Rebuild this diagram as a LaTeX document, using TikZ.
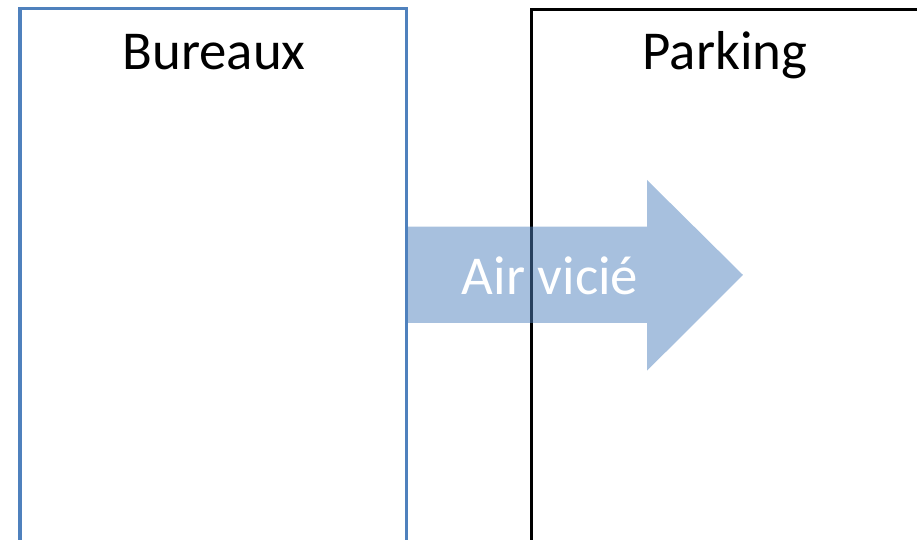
\documentclass[tikz,border=0pt]{standalone}
\usepackage{fontspec}
\setmainfont{Carlito}
\usepackage{tikz}
\usepackage{tkz-euclide}
\usetikzlibrary{arrows}
\definecolor{officeblue}{HTML}{4F81BD}

\begin{document}
\begin{tikzpicture}[]
    \useasboundingbox (0,0) rectangle (9.17,5.40);
    \clip (0,0) rectangle (9.17,5.40);

    \tkzDefPoints{0.20/-0.2/B_1,4.065/-0.2/B_2,4.065/5.315/B_3,0.20/5.315/B_4}
    \draw[color=officeblue,line width=0.9pt] (B_1)--(B_2)--(B_3)--(B_4)--cycle;

    \tkzDefPoints{5.315/-0.2/P_1,9.19/-0.2/P_2,9.19/5.305/P_3,5.315/5.305/P_4}
    \draw[color=black,line width=0.9pt] (P_1)--(P_2)--(P_3)--(P_4)--cycle;

    \tkzDefPoints{4.08/2.17/A_1,6.47/2.17/A_2,6.47/1.693/A_3,7.43/2.65/A_4,6.47/3.60/A_5,6.47/3.133/A_6,4.08/3.133/A_7}
    \tkzFillPolygon[fill=officeblue,opacity=0.5](A_1,A_2,A_3,A_4,A_5,A_6,A_7)

    \node[anchor=base,font=\fontsize{15.6}{19}\selectfont] (bureaux) at (2.14,4.70) {Bureaux};
    \node[anchor=base,font=\fontsize{15.6}{19}\selectfont] (parking) at (7.25,4.70) {Parking};
    \node[anchor=base,text=white,font=\fontsize{15.6}{19}\selectfont] (air) at (5.50,2.45) {Air vicié};

\end{tikzpicture}
\end{document}
